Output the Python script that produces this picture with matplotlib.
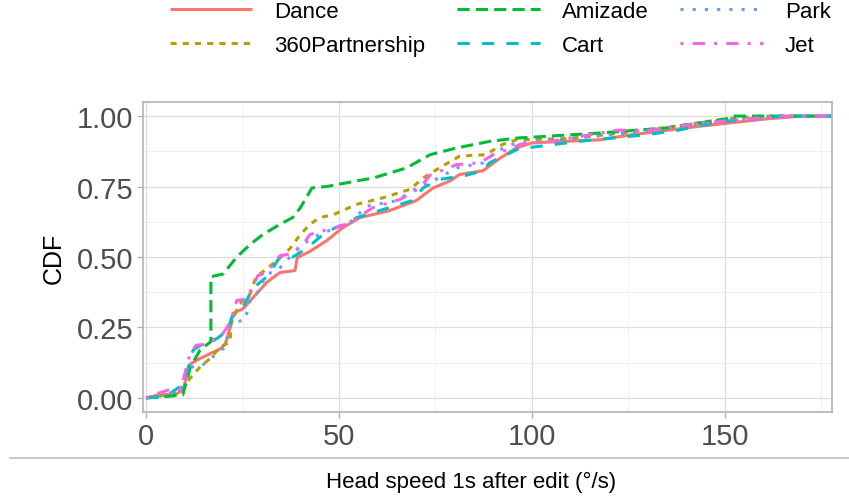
import matplotlib
matplotlib.use("Agg")
import matplotlib.pyplot as plt
from matplotlib.lines import Line2D
from matplotlib.ticker import MultipleLocator

plt.rcParams['font.family'] = ['Liberation Sans', 'DejaVu Sans']

series_names = ["Dance", "360Partnership", "Amizade", "Cart", "Park", "Jet"]
series_colors = ["#F8766D", "#B79F00", "#00BA38", "#00BFC4", "#619CFF", "#F564E3"]

dance_x = [0, 3, 8, 9.6, 11.4, 14, 16.6, 19.2, 20.5, 21.8, 22.5, 25, 27.8, 31.3, 34.7, 38.6, 39.2, 42.5, 46.8, 51, 55.4, 63, 70, 74.4, 78.8, 81.3, 87.3, 91.7, 96, 100, 117.6, 126, 143.5, 160.8, 170, 178]
dance_y = [0, 0.01, 0.015, 0.03, 0.12, 0.14, 0.157, 0.174, 0.19, 0.25, 0.30, 0.315, 0.357, 0.41, 0.445, 0.452, 0.498, 0.52, 0.558, 0.604, 0.64, 0.664, 0.70, 0.745, 0.77, 0.793, 0.806, 0.85, 0.887, 0.905, 0.916, 0.934, 0.964, 0.99, 1.0, 1.0]

p360_x = [0, 5, 9, 11.4, 14, 16.6, 19.2, 21.8, 22, 24, 27, 28.5, 30.5, 33.9, 37.3, 40, 42.5, 45, 48.5, 54.6, 61.4, 68.4, 71.8, 76, 81.3, 88, 92.5, 96, 109, 120, 135, 150, 160, 178]
p360_y = [0, 0.01, 0.02, 0.07, 0.11, 0.14, 0.18, 0.20, 0.26, 0.33, 0.37, 0.43, 0.45, 0.487, 0.53, 0.58, 0.616, 0.64, 0.65, 0.687, 0.71, 0.74, 0.78, 0.816, 0.858, 0.863, 0.90, 0.916, 0.92, 0.935, 0.96, 0.99, 1.0, 1.0]

amizade_x = [0, 5, 9.5, 11.5, 14, 16.8, 16.8, 20, 23.5, 27, 30.3, 34.7, 38, 40, 43, 46.8, 54.6, 58.8, 67.5, 73.6, 80.5, 89, 96, 100, 117.6, 135, 150.4, 152, 178]
amizade_y = [0, 0.005, 0.01, 0.11, 0.17, 0.20, 0.43, 0.44, 0.50, 0.545, 0.58, 0.616, 0.64, 0.675, 0.745, 0.75, 0.77, 0.78, 0.816, 0.863, 0.887, 0.91, 0.922, 0.925, 0.94, 0.958, 0.99, 1.0, 1.0]

cart_x = [0, 5, 8.8, 10.5, 12.2, 15.7, 18.3, 21.2, 22.2, 25, 27.8, 31.3, 34.7, 38, 41.6, 45, 48.5, 52, 54.6, 63, 69, 71.8, 76, 83, 87.3, 89, 93.4, 97, 98.6, 112, 129.7, 138, 148.7, 165, 178]
cart_y = [0, 0.005, 0.04, 0.086, 0.17, 0.20, 0.21, 0.24, 0.286, 0.32, 0.39, 0.43, 0.50, 0.50, 0.53, 0.57, 0.60, 0.62, 0.64, 0.675, 0.70, 0.745, 0.775, 0.79, 0.806, 0.834, 0.863, 0.887, 0.887, 0.91, 0.934, 0.95, 0.98, 1.0, 1.0]

park_x = [0, 5, 9, 11.4, 14, 18.3, 20.5, 21.8, 23, 25.6, 27, 28.2, 31.3, 33.9, 38, 40.7, 43.3, 48.5, 53.6, 57, 65, 69, 74.4, 80.5, 87.3, 91, 95, 100, 110, 125, 140, 150, 163, 178]
park_y = [0, 0.01, 0.03, 0.11, 0.11, 0.157, 0.18, 0.26, 0.27, 0.275, 0.346, 0.357, 0.44, 0.45, 0.51, 0.545, 0.57, 0.60, 0.63, 0.68, 0.70, 0.735, 0.77, 0.816, 0.834, 0.876, 0.90, 0.91, 0.92, 0.94, 0.965, 0.985, 1.0, 1.0]

jet_x = [0, 2.8, 6.2, 9, 11.4, 13, 15.7, 19.2, 21, 22.5, 23.5, 26, 29, 31.3, 34.7, 37.3, 40.7, 42.5, 52, 58.8, 65.8, 71, 73.6, 80.5, 86.5, 90, 95, 97, 104.7, 122, 130.6, 143.5, 165, 178]
jet_y = [0, 0.015, 0.03, 0.03, 0.157, 0.187, 0.19, 0.215, 0.25, 0.286, 0.346, 0.35, 0.434, 0.445, 0.505, 0.51, 0.545, 0.58, 0.616, 0.675, 0.704, 0.745, 0.79, 0.828, 0.834, 0.863, 0.887, 0.9, 0.91, 0.95, 0.95, 0.975, 1.0, 1.0]

series_x = [dance_x, p360_x, amizade_x, cart_x, park_x, jet_x]
series_y = [dance_y, p360_y, amizade_y, cart_y, park_y, jet_y]
series_dashes = [None, (2, 2), (4, 2), (4, 4), (1, 3), (1, 3, 4, 3)]

x_ticks = [0, 50, 100, 150]
y_ticks = [0.0, 0.25, 0.5, 0.75, 1.0]
y_ticklabels = ["0.00", "0.25", "0.50", "0.75", "1.00"]

W, H = 849, 502
fig = plt.figure(figsize=(W / 100, H / 100), dpi=100)
ax = fig.add_axes([143 / W, 1 - 413 / H, (832 - 143) / W, (413 - 103) / H])

handles = []
for xs, ys, name, col, ds in zip(series_x, series_y, series_names, series_colors, series_dashes):
    if ds is None:
        ln, = ax.plot(xs, ys, color=col, lw=2.2, label=name, solid_capstyle='butt')
    else:
        ln, = ax.plot(xs, ys, color=col, lw=2.2, label=name, dashes=ds, dash_capstyle='butt')
    handles.append(ln)

ax.set_xlim(-0.8, 177.8)
ax.set_ylim(-0.05, 1.05)
ax.set_xticks(x_ticks)
ax.set_xticklabels([str(t) for t in x_ticks])
ax.set_yticks(y_ticks)
ax.set_yticklabels(y_ticklabels)
ax.xaxis.set_minor_locator(MultipleLocator(25))
ax.yaxis.set_minor_locator(MultipleLocator(0.125))
ax.grid(which='major', color='#DEDEDE', lw=0.9)
ax.grid(which='minor', color='#EEEEEE', lw=0.6)
ax.set_axisbelow(True)
for s in ax.spines.values():
    s.set_color('#B3B3B3')
    s.set_linewidth(1.2)
ax.tick_params(axis='both', which='major', color='#B3B3B3', length=4, width=1,
               labelsize=21, labelcolor='#4D4D4D', pad=3)
ax.tick_params(which='minor', length=0)

ax.set_ylabel("CDF", fontsize=18, color='black', labelpad=8)

fig.text(471 / W, 1 - 482 / H, "Head speed 1s after edit (°/s)", fontsize=16,
         ha='center', va='center', color='black')
fig.add_artist(Line2D([10 / W, 1.0], [1 - 459 / H, 1 - 459 / H], color='#BDBDBD', lw=1.2))

fig.legend(handles=handles, labels=series_names, ncol=3, loc='upper left',
           bbox_to_anchor=(170 / W, 1 - 2 / H), frameon=False, fontsize=16,
           handlelength=3.7, handletextpad=1.0, columnspacing=1.43,
           labelspacing=0.58, borderpad=0.0, borderaxespad=0.0)

fig.savefig("out.png", dpi=100)
